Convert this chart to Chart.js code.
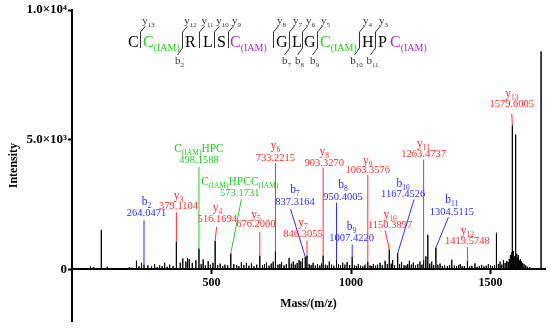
<!DOCTYPE html>
<html>
<head>
<meta charset="utf-8">
<script src="https://cdn.jsdelivr.net/npm/chart.js@4"></script>
<style>
  html, body { margin: 0; padding: 0; background: #fff; }
  #espectro { display: block; }
</style>
</head>
<body>
<canvas id="espectro" width="550" height="330"></canvas>
<script>
// Picos del espectro (m/z e intensidad)
const picosMz = [
  66, 78, 105, 126, 150, 180, 205, 215, 231, 240,
  249, 258, 272, 285, 296, 305, 314, 323, 332, 341,
  350, 362, 374, 388, 397, 408, 414, 420, 431, 444,
  455, 463, 470, 478, 488, 496, 505, 513, 522, 531,
  540, 548, 558, 569, 580, 590, 598, 607, 616, 625,
  634, 643, 652, 662, 673, 683, 690, 697, 706, 714,
  721, 729, 738, 745, 751, 760, 768, 778, 786, 793,
  800, 807, 814, 820, 826, 836, 842, 850, 857, 864,
  872, 880, 888, 894, 900, 908, 915, 922, 930, 938,
  948, 955, 962, 970, 978, 986, 995, 1004, 1012, 1019,
  1026, 1034, 1042, 1050, 1060, 1068, 1074, 1080, 1088, 1095,
  1104, 1112, 1122, 1130, 1137, 1144, 1149, 1156, 1167, 1174,
  1181, 1190, 1197, 1203, 1209, 1216, 1223, 1231, 1239, 1247,
  1254, 1260, 1268, 1275, 1282, 1289, 1296, 1304, 1311, 1319,
  1327, 1335, 1345, 1353, 1361, 1370, 1378, 1385, 1391, 1398,
  1406, 1417, 1425, 1433, 1444, 1452, 1460, 1468, 1476, 1484,
  1492, 1500, 1507, 1514, 1521, 1528, 1534, 1540, 1546, 1552,
  1558, 1563, 1567, 1571, 1575, 1578, 1582, 1585, 1588, 1591,
  1594, 1597, 1600, 1603, 1607, 1611, 1615, 1620, 1626, 1632,
  1640, 1681
];
const picosInt = [
  110, 90, 1520, 100, 40, 50, 80, 60, 330, 120,
  250, 180, 150, 110, 200, 90, 150, 120, 250, 100,
  180, 130, 1050, 260, 420, 300, 440, 400, 250, 350,
  800, 200, 380, 150, 320, 180, 250, 1090, 160, 220,
  130, 180, 150, 610, 200, 160, 120, 280, 160, 250,
  140, 230, 120, 180, 530, 160, 200, 260, 140, 220,
  300, 690, 180, 200, 280, 150, 200, 440, 220, 300,
  180, 250, 360, 300, 420, 480, 520, 200, 160, 250,
  150, 200, 150, 220, 530, 180, 150, 300, 180, 140,
  380, 200, 160, 260, 180, 280, 160, 470, 150, 130,
  200, 140, 120, 180, 280, 150, 130, 200, 140, 180,
  250, 160, 330, 200, 770, 220, 360, 160, 620, 200,
  280, 160, 150, 200, 330, 180, 260, 150, 200, 300,
  180, 350, 500, 1330, 220, 300, 160, 840, 180, 220,
  130, 150, 120, 160, 370, 140, 120, 150, 200, 120,
  130, 330, 110, 140, 230, 100, 120, 170, 110, 140,
  200, 150, 120, 160, 1410, 200, 300, 180, 350, 250,
  320, 280, 400, 550, 650, 5550, 700, 500, 800, 5200,
  600, 450, 550, 350, 400, 300, 250, 200, 150, 100,
  80, 8400
];

// Iones anotados
const ionNombres = ["b2", "y3", "C(IAM)HPC", "C(IAM)HPCC(IAM)", "y4", "y5", "y6", "b7", "y7", "y8",
  "b8", "b9", "y9", "y10", "b10", "y11", "b11", "y12", "y13"];
const ionMasas = ["264.0471", "379.1104", "498.1588", "573.1731", "516.1694", "676.2000", "733.2215",
  "837.3164", "846.3055", "903.3270", "950.4005", "1007.4220", "1063.3576", "1150.3897",
  "1167.4526", "1263.4737", "1304.5115", "1419.5748", "1579.6005"];
const ionPicoMz = [258, 374, 455, 569, 513, 673, 729, 836, 842, 900, 948, 1004, 1060, 1137, 1167, 1260, 1304, 1417, 1578];

// Secuencia del péptido y cortes
const secuencia = ["C", "C(IAM)", "R", "L", "S", "C(IAM)", "G", "L", "G", "C(IAM)", "H", "P", "C(IAM)"];
const cortesY = ["13", "12", "11", "10", "9", "8", "7", "6", "5", "4", "3"];
const cortesB = [null, "2", null, null, null, null, "7", "8", "9", "10", "11"];

// Ticks
const ticksX = [500, 1000, 1500];
const ticksY = [0, 5000, 10000];

// Ubicación de las etiquetas en unidades de los ejes: [mz centro, int nombre, int masa, mz inicio línea, int inicio línea]
const posEtiquetas = [
  [267, 2620, 2160, 258, 1890],
  [382, 2870, 2450, 374, 2200],
  [455, 4670, 4200, 455, 3950],
  [601, 3400, 2920, 607, 2700],
  [521, 2420, 1940, 518, 1630],
  [659, 2130, 1730, 673, 1440],
  [729, 4800, 4290, 729, 4100],
  [799, 3090, 2580, 783, 2320],
  [828, 1820, 1370, 842, 1100],
  [904, 4550, 4100, 900, 3910],
  [971, 3280, 2770, 948, 2580],
  [1002, 1690, 1180, 1004, 950],
  [1060, 4230, 3810, 1060, 3640],
  [1140, 2130, 1690, 1122, 1500],
  [1187, 3340, 2900, 1226, 2700],
  [1260, 4860, 4420, 1260, 4230],
  [1361, 2700, 2200, 1349, 2010],
  [1417, 1500, 1100, 1417, 850],
  [1576, 6790, 6350, 1576, 6000]
];

const FUENTE = '"Liberation Serif", "Times New Roman", serif';
const ROJO = "#ff2a2a", AZUL = "#2b2bff", VERDE = "#22cc22", MORADO = "#9b30c8";

function colorIon(nombre) {
  if (nombre[0] === "b") return AZUL;
  if (nombre[0] === "y") return ROJO;
  return VERDE;
}

// Divide un nombre en partes normales y subíndices
function partes(nombre) {
  if (/^[by]\d+$/.test(nombre)) {
    return [{ t: nombre[0] }, { t: nombre.slice(1), sub: true }];
  }
  return nombre.split(/(\(IAM\))/).filter((s) => s).map((s) => ({ t: s, sub: s === "(IAM)" }));
}

// Dibuja texto con subíndices centrado en cx
function textoRico(ctx, lista, cx, cy, tam, tamSub, color) {
  let ancho = 0;
  lista.forEach((p) => {
    ctx.font = (p.sub ? tamSub : tam) + "px " + FUENTE;
    p.w = ctx.measureText(p.t).width;
    ancho += p.w;
  });
  let xx = cx - ancho / 2;
  ctx.fillStyle = color;
  ctx.textAlign = "left";
  ctx.textBaseline = "alphabetic";
  lista.forEach((p) => {
    ctx.font = (p.sub ? tamSub : tam) + "px " + FUENTE;
    ctx.fillText(p.t, xx, cy + tam * 0.35 + (p.sub ? 3 : 0));
    xx += p.w;
  });
}

// Plugin para las anotaciones de los iones
const anotaciones = {
  id: "anotaciones",
  afterDatasetsDraw(chart) {
    const { ctx } = chart;
    const x = chart.scales.x, y = chart.scales.y;
    ctx.save();
    ionNombres.forEach((nombre, i) => {
      const [cMz, yNom, yNum, topMz, topInt] = posEtiquetas[i];
      const color = colorIon(nombre);
      const pk = ionPicoMz[i];
      const h = picosInt[picosMz.indexOf(pk)];
      ctx.strokeStyle = color;
      ctx.lineWidth = 1;
      ctx.beginPath();
      ctx.moveTo(x.getPixelForValue(topMz), y.getPixelForValue(topInt));
      ctx.lineTo(x.getPixelForValue(pk), y.getPixelForValue(h));
      ctx.stroke();
      textoRico(ctx, partes(nombre), x.getPixelForValue(cMz), y.getPixelForValue(yNom), 11.5, 7.5, color);
      ctx.font = "10.5px " + FUENTE;
      ctx.fillStyle = color;
      ctx.textAlign = "center";
      ctx.textBaseline = "middle";
      ctx.fillText(ionMasas[i], x.getPixelForValue(cMz), y.getPixelForValue(yNum));
    });
    ctx.restore();
  }
};

// Plugin para la secuencia con los cortes b / y
const secuenciaPlugin = {
  id: "secuencia",
  afterDraw(chart) {
    const ctx = chart.ctx;
    const letrasX = [128, 143, 185, 203, 217, 230, 276, 292, 304, 320, 362, 378, 390];
    const sepX = [140, 182, 199, 214, 228, 273, 289, 302, 317, 359, 375];
    const colores = ["#000", VERDE, "#000", "#000", "#000", MORADO, "#000", "#000", "#000", VERDE, "#000", "#000", MORADO];
    ctx.save();
    secuencia.forEach((r, i) => {
      ctx.fillStyle = colores[i];
      ctx.textAlign = "left";
      ctx.textBaseline = "alphabetic";
      ctx.font = "16px " + FUENTE;
      ctx.fillText(r[0], letrasX[i], 47);
      if (r.length > 1) {
        const w = ctx.measureText(r[0]).width;
        ctx.font = "10px " + FUENTE;
        ctx.fillText(r.slice(1), letrasX[i] + w, 51);
      }
    });
    ctx.strokeStyle = "#333";
    ctx.lineWidth = 1;
    sepX.forEach((sx, i) => {
      const px = Math.round(sx) + 0.5;
      ctx.beginPath();
      ctx.moveTo(px + 5, 26);
      ctx.lineTo(px, 32);
      ctx.lineTo(px, 48);
      if (cortesB[i]) {
        ctx.lineTo(px - 5, 55);
      }
      ctx.stroke();
      textoRico(ctx, [{ t: "y" }, { t: cortesY[i], sub: true }], px + 8, 20, 11, 7, "#333");
      if (cortesB[i]) {
        textoRico(ctx, [{ t: "b" }, { t: cortesB[i], sub: true }], px - 3, 60, 11, 7, "#333");
      }
    });
    ctx.restore();
  }
};

// Construimos la línea del espectro (palitos verticales)
const puntos = [];
picosMz.forEach((m, i) => {
  puntos.push({ x: m, y: 0 }, { x: m, y: picosInt[i] }, { x: m, y: 0 });
});

function etiquetaY(v) {
  if (v === 0) return "0";
  const e = Math.floor(Math.log10(v));
  const sup = { 3: "³", 4: "⁴" };
  return (v / Math.pow(10, e)).toFixed(1) + "×10" + sup[e];
}

const config = {
  type: "line",
  data: {
    datasets: [{
      data: puntos,
      borderColor: "#000",
      borderWidth: 1,
      pointRadius: 0,
      tension: 0,
      fill: false
    }]
  },
  options: {
    responsive: false,
    animation: false,
    devicePixelRatio: 1,
    layout: { padding: { top: 10, right: 5, bottom: 4, left: 0 } },
    plugins: { legend: { display: false }, tooltip: { enabled: false } },
    scales: {
      x: {
        type: "linear",
        min: 0,
        max: 1695,
        position: { y: 0 },
        afterBuildTicks: (s) => { s.ticks = ticksX.map((v) => ({ value: v })); },
        grid: { drawOnChartArea: false, drawTicks: true, tickLength: 4, tickWidth: 2, color: "#000" },
        border: { display: true, color: "#000", width: 2 },
        ticks: { color: "#000", padding: 2, maxRotation: 0, callback: (v) => String(v),
          font: { family: FUENTE, size: 12, weight: "bold" } },
        title: { display: true, text: "Mass/(m/z)", color: "#000", padding: { top: 5, bottom: 0 },
          font: { family: FUENTE, size: 12, weight: "bold" } }
      },
      y: {
        min: -2000,
        max: 10000,
        afterBuildTicks: (s) => { s.ticks = ticksY.map((v) => ({ value: v })); },
        afterFit: (s) => { s.width = 72; },
        grid: { drawOnChartArea: false, drawTicks: true, tickLength: 4, tickWidth: 2, color: "#000" },
        border: { display: true, color: "#000", width: 2 },
        ticks: { color: "#000", padding: 1, callback: etiquetaY, font: { family: FUENTE, size: 13, weight: "bold" } },
        title: { display: true, text: "Intensity", color: "#000", padding: { top: 7, bottom: 0 },
          font: { family: FUENTE, size: 12, weight: "bold" } }
      }
    }
  },
  plugins: [anotaciones, secuenciaPlugin]
};

new Chart(document.getElementById("espectro").getContext("2d"), config);
</script>
</body>
</html>
